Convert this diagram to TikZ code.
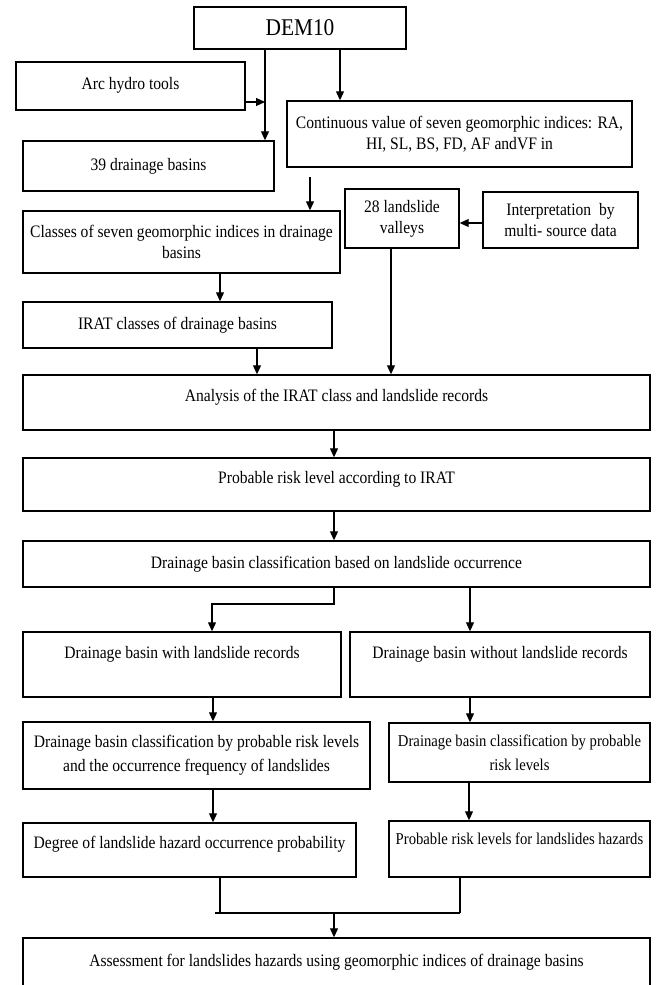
\documentclass[tikz,border=0pt]{standalone}
\usepackage{fontspec}
\setmainfont{Liberation Serif}[FakeStretch=0.89]
\usetikzlibrary{arrows.meta}
\begin{document}
\begin{tikzpicture}[x=1pt,y=-1pt,
  box/.style={draw, line width=1.4pt, inner sep=2pt, align=center,
    font=\fontsize{17.5}{21}\selectfont},
  one/.style={text height=12pt, text depth=#1},
  arr/.style={line width=1.1pt, -{Triangle[length=9pt,width=8pt]}},
  ln/.style={line width=1.1pt}]
\useasboundingbox (0,0) rectangle (662,985);
\fill[white] (0,0) rectangle (662,985);
% boxes
\node[box, minimum width=212pt, minimum height=42pt, font=\fontsize{24}{26}\selectfont] (dem) at (300,28) {DEM10};
\node[box, one=6pt, minimum width=229pt, minimum height=48pt] (arc) at (130.5,86) {Arc hydro tools};
\node[box, one=4pt, minimum width=251pt, minimum height=50pt] (b39) at (148.5,166) {39 drainage basins};
\node[box, minimum width=345pt, minimum height=66pt] (cont) at (459.5,134) {Continuous value of seven geomorphic indices: RA,\\HI, SL, BS, FD, AF andVF in};
\node[box, minimum width=317pt, minimum height=62pt] (classes) at (181.5,242) {Classes of seven geomorphic indices in drainage\\basins};
\node[box, minimum width=114pt, minimum height=59pt] (v28) at (402,218.5) {28 landslide\\valleys};
\node[box, minimum width=155pt, minimum height=56pt] (interp) at (560.5,220) {Interpretation\ \ by\\multi- source data};
\node[box, one=4pt, minimum width=309pt, minimum height=46pt] (irat) at (177.5,325) {IRAT classes of drainage basins};
\node[box, one=15pt, minimum width=627pt, minimum height=55pt] (analysis) at (336.5,402.5) {Analysis of the IRAT class and landslide records};
\node[box, one=15pt, minimum width=627pt, minimum height=53pt] (prob) at (336.5,484.5) {Probable risk level according to IRAT};
\node[box, one=4pt, minimum width=627pt, minimum height=46pt] (cls) at (336.5,564) {Drainage basin classification based on landslide occurrence};
\node[box, one=25pt, minimum width=318pt, minimum height=65pt] (with) at (182,664.5) {Drainage basin with landslide records};
\node[box, one=25pt, minimum width=300pt, minimum height=65pt] (without) at (500,664.5) {Drainage basin without landslide records};
\node[box, minimum width=347pt, minimum height=67pt, font=\fontsize{17.5}{24}\selectfont] (clsL) at (196.5,755.5) {Drainage basin classification by probable risk levels\\and the occurrence frequency of landslides};
\node[box, minimum width=261pt, minimum height=59pt, font=\fontsize{16.5}{24}\selectfont] (clsR) at (519.5,752.5) {Drainage basin classification by probable\\risk levels};
\node[box, one=16pt, minimum width=333pt, minimum height=54pt] (degree) at (189.5,850) {Degree of landslide hazard occurrence probability};
\node[box, one=22pt, minimum width=261pt, minimum height=56pt, font=\fontsize{16.5}{21}\selectfont] (probrisk) at (519.5,849) {Probable risk levels for landslides hazards};
\node[box, one=13pt, minimum width=627pt, minimum height=57pt] (final) at (336.5,966.5) {Assessment for landslides hazards using geomorphic indices of drainage basins};
% helper coordinates
\coordinate (xa) at (265,0);
\coordinate (xb) at (340,0);
\coordinate (j1) at (265,102);
\coordinate (s1) at (310,177);
\coordinate (yi) at (0,223);
\coordinate (xc) at (220,0);
\coordinate (xd) at (257,0);
\coordinate (xe) at (391,0);
\coordinate (xm) at (334,0);
\coordinate (k1) at (334,604);
\coordinate (k2) at (212,604);
\coordinate (xr) at (470,0);
\coordinate (xl) at (213,0);
\coordinate (xq) at (469,0);
\coordinate (m1) at (220,913);
\coordinate (m2) at (460,913);
\coordinate (m0) at (215,913);
\coordinate (mc) at (334,913);
% connectors
\draw[arr] (xa |- dem.south) -- (xa |- b39.north);
\draw[arr] (arc.east |- j1) -- (j1);
\draw[arr] (xb |- dem.south) -- (xb |- cont.north);
\draw[arr] (s1) -- (s1 |- classes.north);
\draw[arr] (interp.west |- yi) -- (v28.east |- yi);
\draw[arr] (xc |- classes.south) -- (xc |- irat.north);
\draw[arr] (xd |- irat.south) -- (xd |- analysis.north);
\draw[arr] (xe |- v28.south) -- (xe |- analysis.north);
\draw[arr] (xm |- analysis.south) -- (xm |- prob.north);
\draw[arr] (xm |- prob.south) -- (xm |- cls.north);
\draw[arr] (xm |- cls.south) -- (k1) -- (k2) -- (k2 |- with.north);
\draw[arr] (xr |- cls.south) -- (xr |- without.north);
\draw[arr] (xl |- with.south) -- (xl |- clsL.north);
\draw[arr] (xr |- without.south) -- (xr |- clsR.north);
\draw[arr] (xl |- clsL.south) -- (xl |- degree.north);
\draw[arr] (xq |- clsR.south) -- (xq |- probrisk.north);
\draw[ln] (m1 |- degree.south) -- (m1);
\draw[ln] (m2 |- probrisk.south) -- (m2);
\draw[ln] (m0) -- (m2);
\draw[arr] (mc) -- (mc |- final.north);
\end{tikzpicture}
\end{document}
